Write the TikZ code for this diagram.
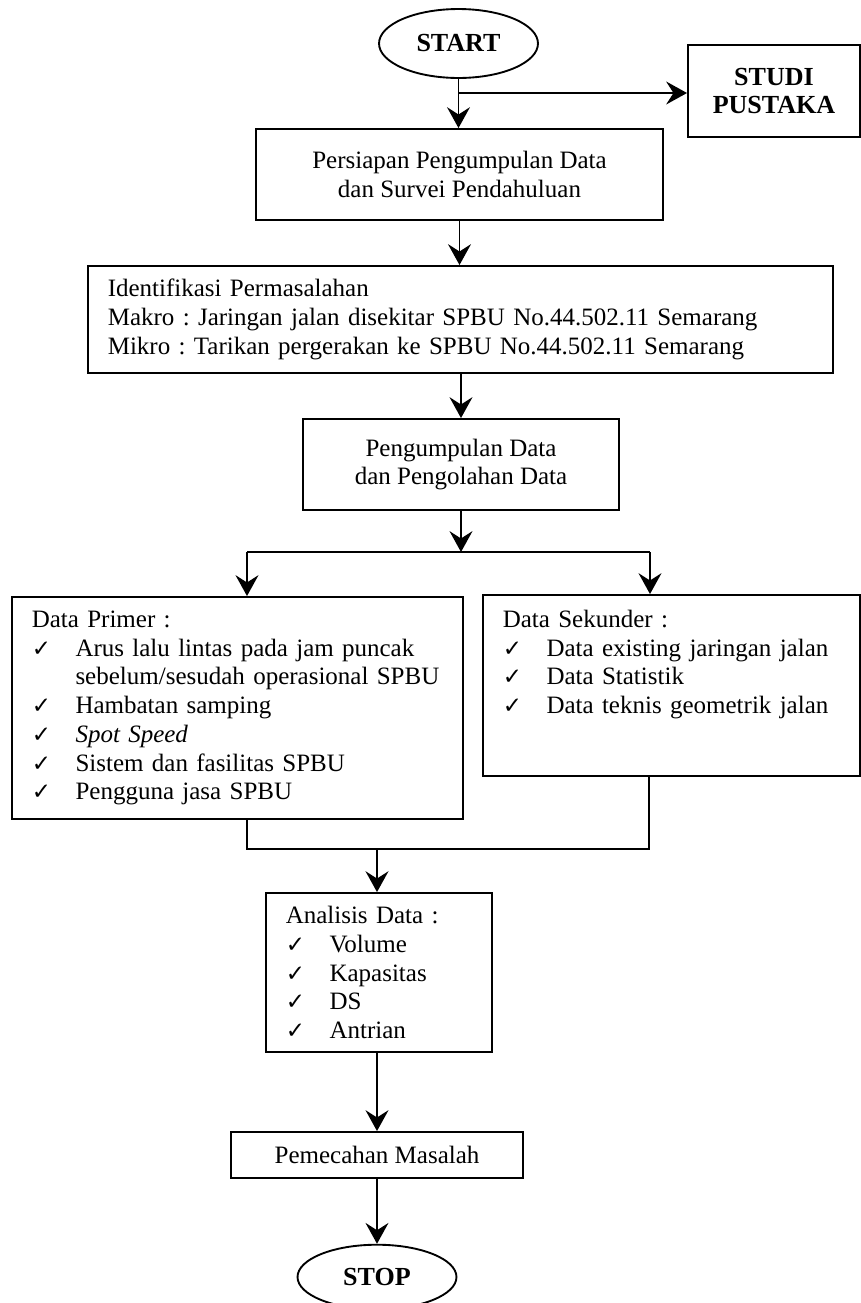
\documentclass[tikz,border=0pt]{standalone}
\usepackage{fontspec}
\setmainfont{Liberation Serif}
\newfontfamily\symfont{DejaVu Sans}
\usetikzlibrary{shapes.geometric, arrows.meta}
\newcommand{\chk}{\makebox[21pt][l]{\symfont\fontsize{11}{13.8}\selectfont ✓}}

\begin{document}
\frenchspacing
\begin{tikzpicture}[
            x=0.48pt, y=-0.48pt,
            every node/.style={font=\fontsize{12}{13.8}\selectfont},
            bx/.style={rectangle, draw, line width=0.9pt, inner sep=0pt, align=center},
            lbx/.style={bx, align=left, inner xsep=9.5pt},
            term/.style={ellipse, draw, line width=0.9pt, inner sep=0pt,
                         font=\fontsize{12.5}{13.8}\selectfont\bfseries},
            arr/.style={-{Stealth[length=10pt, width=11pt, inset=3.5pt]}, line width=0.9pt},
            ln/.style={line width=0.9pt}
          ]
          \useasboundingbox (0,0) rectangle (861,1303);
          \node[term, minimum width=76.3pt, minimum height=33.1pt] (start) at (458.5,43.5) {START};
          \node[bx, font=\fontsize{12.5}{13.8}\selectfont\bfseries, minimum width=82.6pt,
                minimum height=44.2pt] (studi) at (774,91) {STUDI\\PUSTAKA};
          \node[bx, minimum width=195.4pt, minimum height=43.7pt] (persiapan) at (459.5,174.5)
                {Persiapan Pengumpulan Data\\dan Survei Pendahuluan};
          \node[lbx, text width=338.6pt, minimum height=51.4pt] (identifikasi) at (460.5,319.5)
                {Identifikasi Permasalahan\\
                 Makro : Jaringan jalan disekitar SPBU No.44.502.11 Semarang\\
                 Mikro : Tarikan pergerakan ke SPBU No.44.502.11 Semarang};
          \node[bx, minimum width=151.7pt, minimum height=43.7pt] (pengumpulan) at (461,464.5)
                {Pengumpulan Data\\dan Pengolahan Data};
          \node[lbx, text width=197.5pt, minimum height=106.6pt] (primer) at (237.5,708)
                {Data Primer :\\
                 \chk Arus lalu lintas pada jam puncak\\
                 \hspace*{21pt}sebelum/sesudah operasional SPBU\\
                 \chk Hambatan samping\\
                 \chk \textit{Spot Speed}\\
                 \chk Sistem dan fasilitas SPBU\\
                 \chk Pengguna jasa SPBU};
          \node[lbx, text width=162pt, minimum height=86.9pt] (sekunder) at (671.5,685.5)
                {Data Sekunder :\\
                 \chk Data existing jaringan jalan\\
                 \chk Data Statistik\\
                 \chk Data teknis geometrik jalan\\[9pt]\mbox{}};
          \node[lbx, text width=89.5pt, minimum height=76.3pt] (analisis) at (379,972.5)
                {Analisis Data :\\
                 \chk Volume\\
                 \chk Kapasitas\\
                 \chk DS\\
                 \chk Antrian};
          \node[bx, minimum width=140.2pt, minimum height=22.1pt] (pemecahan) at (377,1155)
                {Pemecahan Masalah};
          \node[term, minimum width=76.3pt, minimum height=31pt] (stop) at (377,1277) {STOP};
          \coordinate (fork) at (459,93);
          \coordinate (splitM) at (461,552);
          \coordinate (splitL) at (247,552);
          \coordinate (splitR) at (650,552);
          \coordinate (joinL) at (247,849);
          \coordinate (joinM) at (377,849);
          \coordinate (joinR) at (649,849);
          \draw[arr] (start.south) -- (start.south |- persiapan.north);
          \draw[arr] (fork) -- (fork -| studi.west);
          \draw[arr] (persiapan.south) -- (persiapan.south |- identifikasi.north);
          \draw[arr] (pengumpulan.north |- identifikasi.south) -- (pengumpulan.north);
          \draw[arr] (pengumpulan.south) -- (splitM);
          \draw[ln] (splitL) -- (splitR);
          \draw[arr] (splitL) -- (splitL |- primer.north);
          \draw[arr] (splitR) -- (splitR |- sekunder.north);
          \draw[ln] (joinL |- primer.south) -- (joinL) -- (joinR) -- (joinR |- sekunder.south);
          \draw[arr] (joinM) -- (joinM |- analisis.north);
          \draw[arr] (pemecahan.north |- analisis.south) -- (pemecahan.north);
          \draw[arr] (pemecahan.south) -- (stop.north);
        \end{tikzpicture}
\end{document}
